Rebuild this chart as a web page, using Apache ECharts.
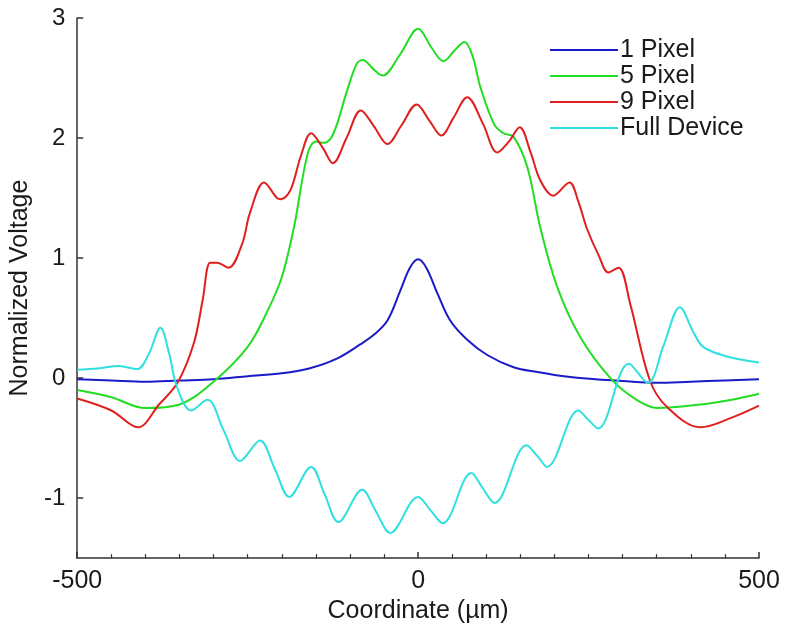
<!DOCTYPE html>
<html>
<head>
<meta charset="utf-8">
<script src="https://cdn.jsdelivr.net/npm/echarts@6/dist/echarts.min.js"></script>
<style>
  html, body { margin: 0; padding: 0; background: #fff; }
  #chart { width: 785px; height: 629px; }
</style>
</head>
<body>
<div id="chart"></div>
<script>
// values
const pixel1X = [-500, -450, -400, -350, -300, -250, -200, -160, -120, -85, -65, -45, -26, -12, 0, 12, 28, 47, 72, 102, 140, 175, 220, 260, 300, 350, 400, 450, 500];
const pixel1Y = [-0.01, -0.02, -0.03, -0.02, -0.01, 0.015, 0.04, 0.08, 0.16, 0.28, 0.36, 0.48, 0.73, 0.92, 0.99, 0.92, 0.71, 0.48, 0.32, 0.19, 0.09, 0.05, 0.01, -0.01, -0.025, -0.04, -0.03, -0.02, -0.01];

const pixel5X = [-500, -450, -400, -350, -300, -250, -220, -200, -182, -162, -150, -138, -124, -105, -90, -81, -65, -52, -26, 0, 20, 37, 55, 68, 80, 91, 111, 125, 140, 160, 179, 204, 238, 282, 320, 351, 414, 460, 500];
const pixel5Y = [-0.1, -0.16, -0.25, -0.22, -0.03, 0.26, 0.57, 0.84, 1.26, 1.87, 1.97, 1.96, 2.04, 2.38, 2.62, 2.65, 2.57, 2.52, 2.7, 2.91, 2.75, 2.64, 2.74, 2.8, 2.68, 2.43, 2.12, 2.04, 2.01, 1.76, 1.26, 0.76, 0.34, 0.0, -0.18, -0.25, -0.22, -0.18, -0.13];

const pixel9X = [-500, -450, -411, -380, -353, -329, -316, -305, -295, -278, -258, -247, -226, -207, -201, -187, -172, -157, -140, -125, -105, -84, -65, -45, -25, -2, 16, 34, 52, 72, 95, 116, 133, 149, 165, 179, 198, 222, 235, 248, 265, 279, 294, 311, 340, 365, 414, 460, 500];
const pixel9Y = [-0.17, -0.27, -0.41, -0.22, -0.04, 0.29, 0.65, 0.96, 0.96, 0.92, 1.12, 1.37, 1.63, 1.5, 1.49, 1.57, 1.85, 2.04, 1.92, 1.79, 2.0, 2.23, 2.1, 1.95, 2.1, 2.28, 2.15, 2.02, 2.17, 2.34, 2.12, 1.88, 1.97, 2.09, 1.88, 1.65, 1.52, 1.63, 1.47, 1.24, 1.02, 0.88, 0.92, 0.62, -0.02, -0.24, -0.41, -0.33, -0.23];

const fullX = [-500, -470, -439, -412, -395, -378, -365, -354, -333, -309, -285, -261, -232, -210, -189, -157, -137, -117, -82, -62, -41, 0, 18, 36, 78, 95, 112, 159, 175, 189, 235, 250, 264, 309, 337, 360, 384, 404, 418, 453, 500];
const fullY = [0.07, 0.08, 0.1, 0.075, 0.2, 0.42, 0.2, -0.07, -0.27, -0.18, -0.44, -0.69, -0.52, -0.76, -0.99, -0.74, -0.97, -1.2, -0.93, -1.11, -1.29, -0.99, -1.1, -1.21, -0.79, -0.92, -1.04, -0.56, -0.65, -0.74, -0.27, -0.35, -0.42, 0.12, -0.04, 0.27, 0.59, 0.38, 0.26, 0.18, 0.13];

const xTicks = [-500, 0, 500];
const yTicks = [-1, 0, 1, 2, 3];

const seriesNames = ["1 Pixel", "5 Pixel", "9 Pixel", "Full Device"];
const seriesColors = ["#1a1ac8", "#22dd22", "#e01f1f", "#2ee0e0"];

const pairs = (xs, ys) => xs.map((x, i) => [x, ys[i]]);
const allData = [
  pairs(pixel1X, pixel1Y),
  pairs(pixel5X, pixel5Y),
  pairs(pixel9X, pixel9Y),
  pairs(fullX, fullY)
];

const chart = echarts.init(document.getElementById("chart"));
const font = "Liberation Sans, Arial, sans-serif";

chart.setOption({
  animation: false,
  grid: { left: 76, right: 26, top: 18, bottom: 70 },
  legend: {
    orient: "vertical",
    left: 545,
    top: 32,
    itemWidth: 68,
    itemHeight: 10,
    itemGap: 0,
    icon: "path://M0,4L68,4L68,6L0,6Z",
    textStyle: { fontFamily: font, fontSize: 25, color: "#1a1a1a", lineHeight: 26, padding: [0, 0, 0, -3] },
    data: seriesNames
  },
  xAxis: {
    type: "value",
    min: -500,
    max: 500,
    interval: 500,
    name: "Coordinate (µm)",
    nameLocation: "middle",
    nameGap: 35,
    nameTextStyle: { fontFamily: font, fontSize: 25, color: "#1a1a1a" },
    axisLine: { onZero: false, lineStyle: { color: "#333", width: 1.5 } },
    axisTick: { inside: true, length: 6, lineStyle: { color: "#333", width: 1.5 } },
    minorTick: { show: true, splitNumber: 10, length: 4, lineStyle: { color: "#333", width: 1.2 } },
    splitLine: { show: false },
    axisLabel: {
      fontFamily: font, fontSize: 25, color: "#1a1a1a", margin: 11,
      customValues: xTicks
    }
  },
  yAxis: {
    type: "value",
    min: -1.5,
    max: 3,
    name: "Normalized Voltage",
    nameLocation: "middle",
    nameGap: 44,
    nameTextStyle: { fontFamily: font, fontSize: 25, color: "#1a1a1a" },
    axisLine: { show: true, onZero: false, lineStyle: { color: "#333", width: 1.5 } },
    axisTick: { show: true, inside: true, length: 6, lineStyle: { color: "#333", width: 1.5 }, customValues: yTicks },
    splitLine: { show: false },
    axisLabel: {
      fontFamily: font, fontSize: 24, color: "#1a1a1a", margin: 12,
      customValues: yTicks
    }
  },
  series: allData.map((d, i) => ({
    name: seriesNames[i],
    type: "line",
    data: d,
    symbol: "none",
    smooth: 0.35,
    color: seriesColors[i],
    lineStyle: { width: 2, color: seriesColors[i] },
    z: 2 + i
  }))
});
</script>
</body>
</html>
